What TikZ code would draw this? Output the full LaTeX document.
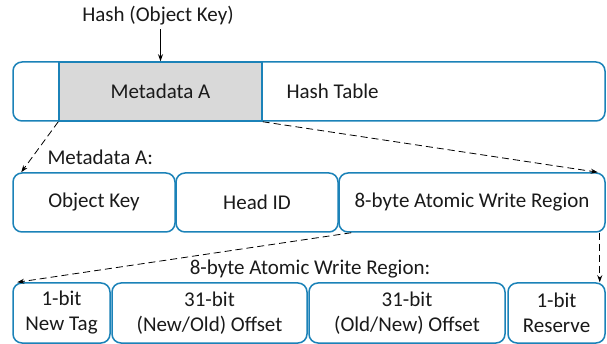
\documentclass[tikz,border=0pt]{standalone}
\usepackage{fontspec}
\setmainfont{Carlito}
\usetikzlibrary{arrows.meta,calc}
\definecolor{bbord}{HTML}{1B82B8}
\definecolor{gfill}{HTML}{D9D9D9}
\definecolor{tcol}{HTML}{1A1A1A}
\begin{document}
\begin{tikzpicture}[x=1pt,y=-1pt,
  every node/.style={font=\fontsize{21}{25}\selectfont, text=tcol},
  cell/.style={draw=bbord, line width=1.5pt, rounded corners=9pt, inner sep=0pt, align=center, fill=white},
  grayc/.style={draw=bbord, line width=1.5pt, fill=gfill, inner sep=0pt},
  dasharrow/.style={draw=black, line width=0.8pt, dash pattern=on 7pt off 4pt, -{Stealth[length=7pt,width=5pt]}},
  solidarrow/.style={draw=black, line width=0.8pt, -{Stealth[length=7pt,width=5pt]}}]
\useasboundingbox (0,0) rectangle (607,344);
% hash table
\node[cell, minimum width=592pt, minimum height=59pt] (ht) at (309,91.5) {};
\node[grayc, minimum width=203pt, minimum height=59pt] (meta) at (160.5,91.5) {Metadata A};
\node[anchor=west] (htl) at (283,91.5) {Hash Table};
\node (hash) at (158,16) {Hash (Object Key)};
\draw[solidarrow] (hash.south -| meta.north) -- (meta.north);
% row 2
\node[anchor=west] (mlab) at (44,157) {Metadata A:};
\node[cell, minimum width=162pt, minimum height=59pt] (ok) at (94,202.5) {Object Key};
\node[cell, minimum width=162pt, minimum height=59pt] (hid) at (257,202.5) {Head ID};
\node[cell, minimum width=266pt, minimum height=59pt] (awr) at (472,202.5) {8-byte Atomic Write Region};
% row 3
\node (alab) at (310,269) {8-byte Atomic Write Region:};
\node[cell, minimum width=97pt, minimum height=60pt] (tag) at (61.5,313) {1-bit\\New Tag};
\node[cell, minimum width=195pt, minimum height=60pt] (no) at (209.5,313) {31-bit\\(New/Old) Offset};
\node[cell, minimum width=196pt, minimum height=60pt] (on) at (407,313) {31-bit\\(Old/New) Offset};
\node[cell, minimum width=97pt, minimum height=60pt] (res) at (556.5,313) {1-bit\\Reserve};
% connectors
\coordinate (t1) at ($(ok.north west)+(9,0)$);
\coordinate (t2) at ($(awr.north east)+(-8,0)$);
\coordinate (s3) at ($(awr.south west)+(13,0)$);
\coordinate (t3) at ($(tag.north west)+(5,0)$);
\coordinate (s4) at ($(awr.south east)+(-6,0)$);
\draw[dasharrow] (meta.south west) -- (t1);
\draw[dasharrow] (meta.south east) -- (t2);
\draw[dasharrow] (s3) -- (t3);
\draw[dasharrow] (s4) -- (s4 |- res.north);
\end{tikzpicture}
\end{document}
